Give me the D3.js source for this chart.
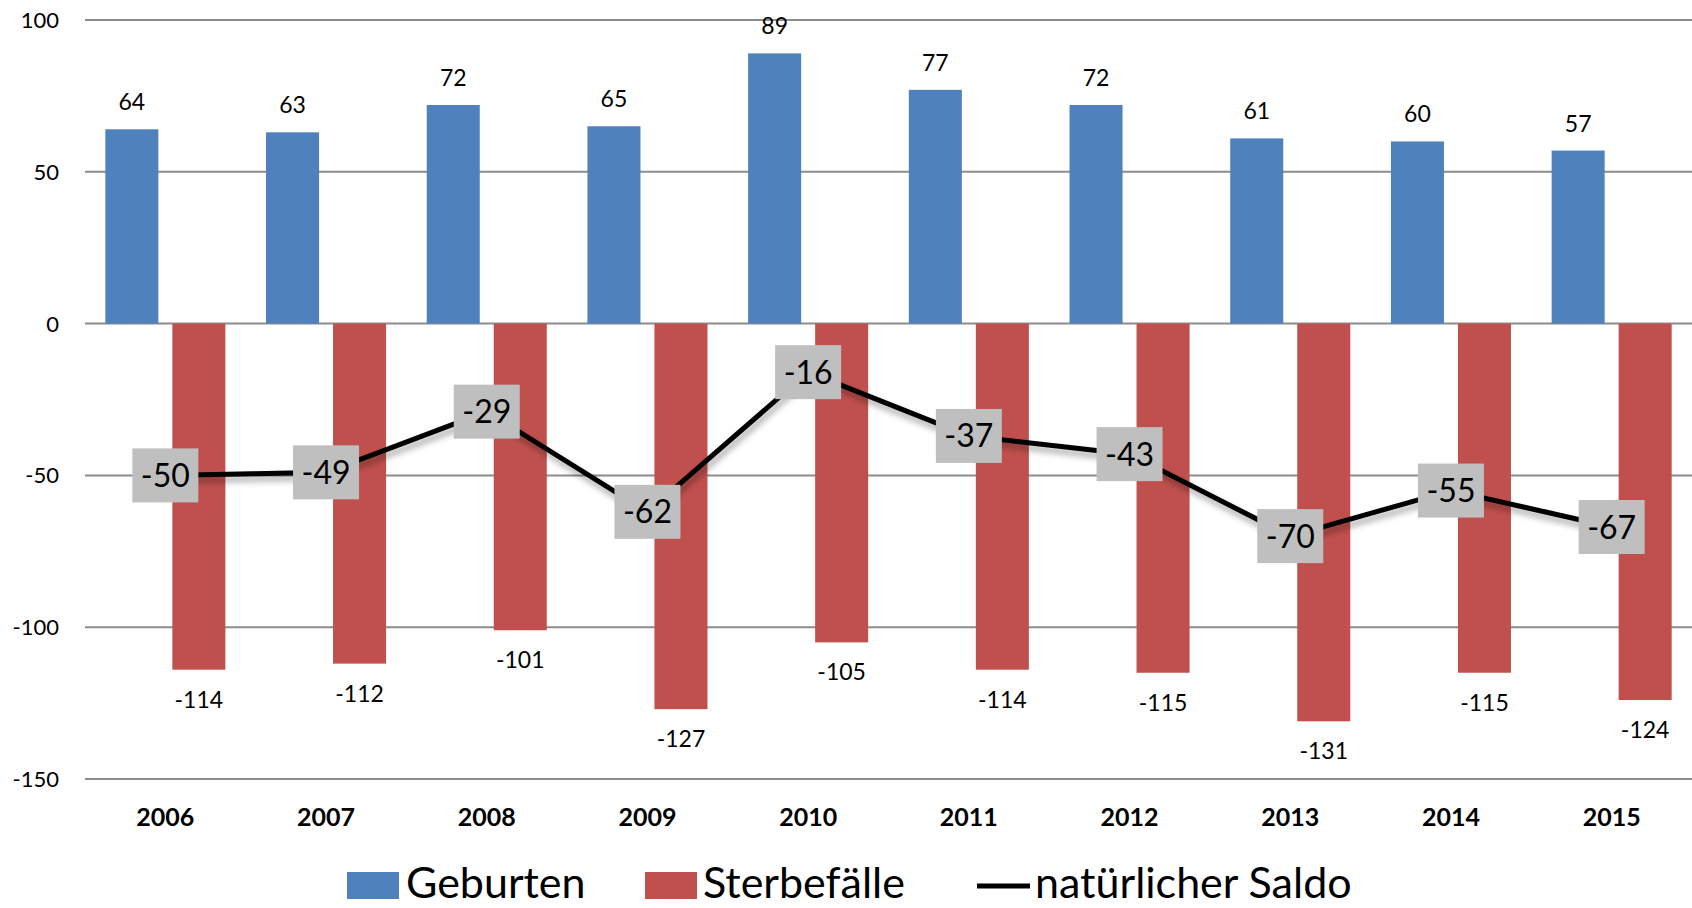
<!DOCTYPE html>
<html>
<head>
<meta charset="utf-8">
<script src="https://cdn.jsdelivr.net/npm/d3@7"></script>
<style>
  body { margin: 0; background: #fff; }
  text { font-family: Lato, "Open Sans", sans-serif; fill: #000; }
</style>
</head>
<body>
<div id="chart"></div>
<script>
var svgWidth = 1692;
var svgHeight = 908;

// data
var years = ["2006", "2007", "2008", "2009", "2010", "2011", "2012", "2013", "2014", "2015"];
var geburten = [64, 63, 72, 65, 89, 77, 72, 61, 60, 57];
var sterbefaelle = [-114, -112, -101, -127, -105, -114, -115, -131, -115, -124];
var saldo = [-50, -49, -29, -62, -16, -37, -43, -70, -55, -67];
var yTicks = [100, 50, 0, -50, -100, -150];

var plot = { left: 85, right: 1692, top: 20, bottom: 779 };

var svg = d3.select("#chart")
  .append("svg")
  .attr("width", svgWidth)
  .attr("height", svgHeight);

var defs = svg.append("defs");
var shadow = defs.append("filter")
  .attr("id", "shadow")
  .attr("x", "-20%").attr("y", "-20%")
  .attr("width", "140%").attr("height", "160%");
shadow.append("feDropShadow")
  .attr("dx", 2)
  .attr("dy", 5)
  .attr("stdDeviation", 3)
  .attr("flood-color", "#000")
  .attr("flood-opacity", 0.35);

var xScale = d3.scaleBand()
  .domain(years)
  .range([plot.left, plot.right])
  .padding(0);

var yScale = d3.scaleLinear()
  .domain([-150, 100])
  .range([plot.bottom, plot.top]);

var bw = xScale.bandwidth();
var barW = bw * 0.33;
var halfGap = bw * 0.0435;
function center(d) { return xScale(d) + bw / 2; }

// gridlines
svg.append("g")
  .selectAll("line")
  .data(yTicks)
  .enter()
  .append("line")
  .attr("x1", plot.left)
  .attr("x2", plot.right)
  .attr("y1", d => yScale(d))
  .attr("y2", d => yScale(d))
  .attr("stroke", "#8c8c8c")
  .attr("stroke-width", 2);

// y tick labels
svg.append("g")
  .selectAll("text")
  .data(yTicks)
  .enter()
  .append("text")
  .attr("x", 59)
  .attr("y", d => yScale(d))
  .attr("dy", "0.36em")
  .attr("text-anchor", "end")
  .attr("font-size", "22px")
  .text(d => d);

// x labels
svg.append("g")
  .selectAll("text")
  .data(years)
  .enter()
  .append("text")
  .attr("x", d => center(d))
  .attr("y", 826)
  .attr("text-anchor", "middle")
  .attr("font-size", "25px")
  .attr("font-weight", "bold")
  .text(d => d);

// Geburten bars
svg.append("g")
  .selectAll("rect")
  .data(geburten)
  .enter()
  .append("rect")
  .attr("x", (d, i) => center(years[i]) - halfGap - barW)
  .attr("y", d => yScale(d))
  .attr("width", barW)
  .attr("height", d => yScale(0) - yScale(d))
  .attr("fill", "#4f81bd");

// Sterbefälle bars
svg.append("g")
  .selectAll("rect")
  .data(sterbefaelle)
  .enter()
  .append("rect")
  .attr("x", (d, i) => center(years[i]) + halfGap)
  .attr("y", yScale(0))
  .attr("width", barW)
  .attr("height", d => yScale(d) - yScale(0))
  .attr("fill", "#c0504d");

// bar labels
svg.append("g")
  .selectAll("text")
  .data(geburten)
  .enter()
  .append("text")
  .attr("x", (d, i) => center(years[i]) - halfGap - barW / 2)
  .attr("y", d => yScale(d) - 19)
  .attr("text-anchor", "middle")
  .attr("font-size", "23px")
  .text(d => d);

svg.append("g")
  .selectAll("text")
  .data(sterbefaelle)
  .enter()
  .append("text")
  .attr("x", (d, i) => center(years[i]) + halfGap + barW / 2)
  .attr("y", d => yScale(d) + 38)
  .attr("text-anchor", "middle")
  .attr("font-size", "23px")
  .text(d => d);

// saldo line
var line = d3.line()
  .x((d, i) => center(years[i]))
  .y(d => yScale(d));

svg.append("path")
  .datum(saldo)
  .attr("d", line)
  .attr("fill", "none")
  .attr("stroke", "#000")
  .attr("stroke-width", 5)
  .attr("stroke-linejoin", "round")
  .attr("filter", "url(#shadow)");

// saldo labels in grey boxes
var boxes = svg.append("g")
  .selectAll("g")
  .data(saldo)
  .enter()
  .append("g")
  .attr("transform", (d, i) => `translate(${center(years[i])}, ${yScale(d)})`);

boxes.append("rect")
  .attr("x", -33)
  .attr("y", -27)
  .attr("width", 66)
  .attr("height", 54)
  .attr("fill", "#bfbfbf");

boxes.append("text")
  .attr("x", 0)
  .attr("y", 0)
  .attr("dy", "0.36em")
  .attr("text-anchor", "middle")
  .attr("font-size", "32px")
  .text(d => d);

// legend
var legend = svg.append("g");

legend.append("rect")
  .attr("x", 347).attr("y", 872)
  .attr("width", 52).attr("height", 27)
  .attr("fill", "#4f81bd");
legend.append("text")
  .attr("x", 406).attr("y", 898)
  .attr("font-size", "43px")
  .text("Geburten");

legend.append("rect")
  .attr("x", 645).attr("y", 872)
  .attr("width", 52).attr("height", 27)
  .attr("fill", "#c0504d");
legend.append("text")
  .attr("x", 703).attr("y", 898)
  .attr("font-size", "43px")
  .text("Sterbefälle");

legend.append("line")
  .attr("x1", 977).attr("x2", 1030)
  .attr("y1", 886).attr("y2", 886)
  .attr("stroke", "#000")
  .attr("stroke-width", 5);
legend.append("text")
  .attr("x", 1035).attr("y", 898)
  .attr("font-size", "43px")
  .text("natürlicher Saldo");
</script>
</body>
</html>
